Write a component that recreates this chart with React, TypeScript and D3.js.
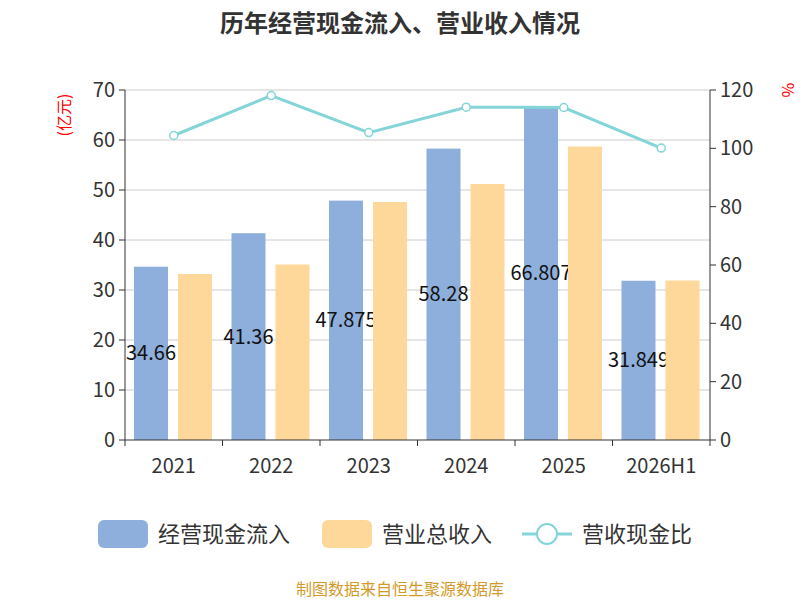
import React from "react";
import * as d3 from "d3";

const categories = ["2021", "2022", "2023", "2024", "2025", "2026H1"];
const cashInflow = [34.66, 41.36, 47.875, 58.28, 66.807, 31.849];
const revenue = [33.2, 35.1, 47.6, 51.2, 58.7, 31.9];
const ratio = [104.4, 118.1, 105.4, 114.1, 114.0, 100.1];
const leftTicks = [0, 10, 20, 30, 40, 50, 60, 70];
const rightTicks = [0, 20, 40, 60, 80, 100, 120];

export default function App() {
  const W = 800, H = 600;
  const L = 125, R = 710, T = 90, B = 440;
  const x = d3.scaleBand().domain(categories).range([L, R]);
  const yL = d3.scaleLinear().domain([0, 70]).range([B, T]);
  const yR = d3.scaleLinear().domain([0, 120]).range([B, T]);
  const bw = 34;
  const font = "'Noto Sans CJK SC', 'Noto Sans', sans-serif";
  const line = d3.line<number>().x((_, i) => x(categories[i])! + x.bandwidth() / 2).y(d => yR(d));
  return (
    <svg width={W} height={H} style={{ position: "absolute", left: 0, top: 0 }} fontFamily={font}>
      <text x={400} y={32} textAnchor="middle" fontSize={24} fontWeight="bold" fill="#333">历年经营现金流入、营业收入情况</text>
      {leftTicks.map(t => (
        <g key={t}>
          {t > 0 && <line x1={L} x2={R} y1={yL(t)} y2={yL(t)} stroke="#ccc" />}
          <line x1={L - 6} x2={L} y1={yL(t)} y2={yL(t)} stroke="#333" />
          <text x={L - 10} y={yL(t) + 7} textAnchor="end" fontSize={20} fill="#333">{t}</text>
        </g>
      ))}
      {rightTicks.map(t => (
        <g key={t}>
          <line x1={R} x2={R + 6} y1={yR(t)} y2={yR(t)} stroke="#333" />
          <text x={R + 10} y={yR(t) + 7} textAnchor="start" fontSize={20} fill="#333">{t}</text>
        </g>
      ))}
      <line x1={L} x2={L} y1={T} y2={B} stroke="#333" />
      <line x1={R} x2={R} y1={T} y2={B} stroke="#333" />
      <text transform={`translate(70,115) rotate(-90)`} textAnchor="middle" fontSize={16} fill="red">(亿元)</text>
      <text transform={`translate(782,90) rotate(90)`} textAnchor="middle" fontSize={16} fill="red">%</text>
      {categories.map((c, i) => {
        const x0 = x(c)!;
        return (
          <g key={c}>
            <rect x={x0 + 9} y={yL(cashInflow[i])} width={bw} height={B - yL(cashInflow[i])} fill="#8eaedb" />
            <text x={x0 + 9 + bw / 2} y={(yL(cashInflow[i]) + B) / 2 + 7} textAnchor="middle" fontSize={20} fill="#111">{String(cashInflow[i])}</text>
            <rect x={x0 + 53} y={yL(revenue[i])} width={bw} height={B - yL(revenue[i])} fill="#fed89b" />
          </g>
        );
      })}
      <line x1={L} x2={R} y1={B} y2={B} stroke="#333" />
      {categories.map((c, i) => (
        <g key={c}>
          <line x1={x(c)!} x2={x(c)!} y1={B} y2={B + 6} stroke="#333" />
          <text x={x(c)! + x.bandwidth() / 2} y={B + 33} textAnchor="middle" fontSize={20} fill="#333">{c}</text>
        </g>
      ))}
      <line x1={R} x2={R} y1={B} y2={B + 6} stroke="#333" />
      <path d={line(ratio)!} fill="none" stroke="#84d4d8" strokeWidth={3} />
      {ratio.map((v, i) => (
        <circle key={i} cx={x(categories[i])! + x.bandwidth() / 2} cy={yR(v)} r={4} fill="#fff" stroke="#84d4d8" strokeWidth={1.5} />
      ))}
      <rect x={98} y={520} width={50} height={28} rx={6} fill="#8eaedb" />
      <text x={158} y={542} fontSize={22} fill="#333">经营现金流入</text>
      <rect x={322} y={520} width={50} height={28} rx={6} fill="#fed89b" />
      <text x={382} y={542} fontSize={22} fill="#333">营业总收入</text>
      <line x1={522} x2={572} y1={534} y2={534} stroke="#84d4d8" strokeWidth={3} />
      <circle cx={547} cy={534} r={10} fill="#fff" stroke="#84d4d8" strokeWidth={2} />
      <text x={582} y={542} fontSize={22} fill="#333">营收现金比</text>
      <text x={400} y={595} textAnchor="middle" fontSize={16} fill="#d29a2a">制图数据来自恒生聚源数据库</text>
    </svg>
  );
}
